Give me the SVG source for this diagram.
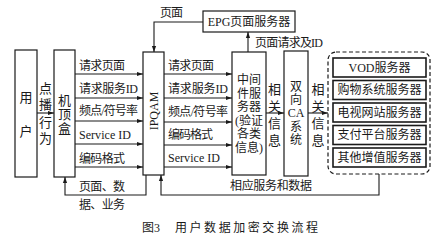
<svg xmlns="http://www.w3.org/2000/svg" width="438" height="243" viewBox="0 0 438 243">
<style>
text{font-family:"Liberation Serif","Noto Sans CJK SC",serif;font-size:12px;fill:#1a1a1a;dominant-baseline:central}
.c{text-anchor:middle}
.v{font-size:13px;text-anchor:middle}
.s{font-size:12px;text-anchor:middle}
.box{fill:#fff;stroke:#1a1a1a;stroke-width:1.2}
.ibox{fill:#fff;stroke:#1a1a1a;stroke-width:1.6}
.dash{fill:none;stroke:#1a1a1a;stroke-width:1.2;stroke-dasharray:4 2.5}
.ln{fill:none;stroke:#1a1a1a;stroke-width:1.1}
.ar{marker-end:url(#ah)}
</style>
<defs>
<marker id="ah" viewBox="0 0 10 10" refX="10" refY="5" markerWidth="6" markerHeight="6" orient="auto" markerUnits="userSpaceOnUse">
<path d="M0,1.5 L10,5 L0,8.5 z" fill="#1a1a1a"/>
</marker>
</defs>
<rect width="438" height="243" fill="#fff"/>

<g id="user">
<rect class="box" x="15" y="50" width="22" height="127"/>
<text class="v" x="26" y="97">用</text>
<text class="v" x="26" y="131">户</text>
</g>

<g id="settop">
<rect class="box" x="54" y="50" width="21" height="127"/>
<text class="v" x="64.5" y="100">机</text>
<text class="v" x="64.5" y="114">顶</text>
<text class="v" x="64.5" y="128">盒</text>
</g>

<g id="ipqam">
<rect class="box" x="143" y="52" width="21" height="123"/>
<text class="c" transform="translate(153.5,111) rotate(-90)" x="0" y="0">IPQAM</text>
</g>

<g id="middleware">
<rect class="box" x="232" y="52" width="34" height="123"/>
<text class="s" x="249" y="80">中间</text>
<text class="s" x="249" y="93.5">件服</text>
<text class="s" x="249" y="107">务器</text>
<text class="s" x="249" y="120.5">(验证</text>
<text class="s" x="249" y="134">各类</text>
<text class="s" x="249" y="147.5">信息)</text>
</g>

<g id="ca">
<rect class="box" x="284" y="51" width="24" height="125"/>
<text class="s" x="296" y="87">双</text>
<text class="s" x="296" y="100">向</text>
<text class="s" x="296" y="113">CA</text>
<text class="s" x="296" y="126.5">系</text>
<text class="s" x="296" y="140">统</text>
</g>

<g id="epg">
<rect class="box" x="203" y="11" width="92" height="21"/>
<text class="c" x="249" y="21.5">EPG页面服务器</text>
</g>

<g id="vas">
<rect class="dash" x="328" y="52" width="102" height="122" rx="8"/>
<rect class="ibox" x="333" y="58" width="93" height="19"/>
<text class="c" x="379.5" y="67.5">VOD服务器</text>
<rect class="ibox" x="333" y="80.5" width="93" height="19"/>
<text class="c" x="379.5" y="90" textLength="84" lengthAdjust="spacing">购物系统服务器</text>
<rect class="ibox" x="333" y="103" width="93" height="19"/>
<text class="c" x="379.5" y="112.5" textLength="84" lengthAdjust="spacing">电视网站服务器</text>
<rect class="ibox" x="333" y="125.5" width="93" height="19"/>
<text class="c" x="379.5" y="135" textLength="84" lengthAdjust="spacing">支付平台服务器</text>
<rect class="ibox" x="333" y="148" width="93" height="19"/>
<text class="c" x="379.5" y="157.5" textLength="84" lengthAdjust="spacing">其他增值服务器</text>
</g>

<g id="connectors">
<line class="ln ar" x1="37" y1="113" x2="54" y2="113"/>
<line class="ln ar" x1="75" y1="74" x2="143" y2="74"/>
<line class="ln ar" x1="75" y1="98" x2="143" y2="98"/>
<line class="ln ar" x1="75" y1="121" x2="143" y2="121"/>
<line class="ln ar" x1="75" y1="144" x2="143" y2="144"/>
<line class="ln ar" x1="75" y1="167" x2="143" y2="167"/>
<line class="ln ar" x1="164" y1="74" x2="232" y2="74"/>
<line class="ln ar" x1="164" y1="98" x2="232" y2="98"/>
<line class="ln ar" x1="164" y1="122" x2="232" y2="122"/>
<line class="ln ar" x1="164" y1="145" x2="232" y2="145"/>
<line class="ln ar" x1="164" y1="167" x2="232" y2="167"/>
<line class="ln ar" x1="266" y1="113" x2="284" y2="113"/>
<line class="ln ar" x1="308" y1="113" x2="328" y2="113"/>
<line class="ln ar" x1="248" y1="52" x2="248" y2="32"/>
<polyline class="ln ar" points="203,22 154,22 154,52"/>
<polyline class="ln ar" points="379,174 379,195 161,195 161,175"/>
<polyline class="ln ar" points="146,175 146,195 65,195 65,177"/>

<text class="v" x="45.5" y="88">点</text>
<text class="v" x="45.5" y="104">播</text>
<text class="v" x="45.5" y="122">行</text>
<text class="v" x="45.5" y="138">为</text>

<text x="79" y="66" textLength="46" lengthAdjust="spacing">请求页面</text>
<text x="79" y="89" textLength="59" lengthAdjust="spacing">请求服务ID</text>
<text x="79" y="111" textLength="59" lengthAdjust="spacing">频点/符号率</text>
<text x="79" y="135" textLength="52" lengthAdjust="spacing">Service ID</text>
<text x="79" y="159" textLength="46" lengthAdjust="spacing">编码格式</text>

<text x="168" y="66" textLength="46" lengthAdjust="spacing">请求页面</text>
<text x="168" y="89" textLength="60" lengthAdjust="spacing">请求服务ID</text>
<text x="168" y="112" textLength="60" lengthAdjust="spacing">频点/符号率</text>
<text x="168" y="135" textLength="45" lengthAdjust="spacing">编码格式</text>
<text x="168" y="158" textLength="52" lengthAdjust="spacing">Service ID</text>

<text class="v" x="274.5" y="89">相</text>
<text class="v" x="274.5" y="106">关</text>
<text class="v" x="274.5" y="123">信</text>
<text class="v" x="274.5" y="140">息</text>

<text class="v" x="318" y="89">相</text>
<text class="v" x="318" y="106">关</text>
<text class="v" x="318" y="123">信</text>
<text class="v" x="318" y="140">息</text>

<text x="160" y="13" textLength="23" lengthAdjust="spacing">页面</text>
<text x="255" y="43" textLength="68" lengthAdjust="spacing">页面请求及ID</text>
<text x="230" y="186" textLength="82" lengthAdjust="spacing">相应服务和数据</text>
<text x="79" y="187" textLength="46" lengthAdjust="spacing">页面、数</text>
<text x="79" y="205" textLength="46" lengthAdjust="spacing">据、业务</text>
</g>

<text x="142" y="228" textLength="18" lengthAdjust="spacing">图3</text>
<text x="175" y="228" textLength="143" lengthAdjust="spacing">用户数据加密交换流程</text>
</svg>
